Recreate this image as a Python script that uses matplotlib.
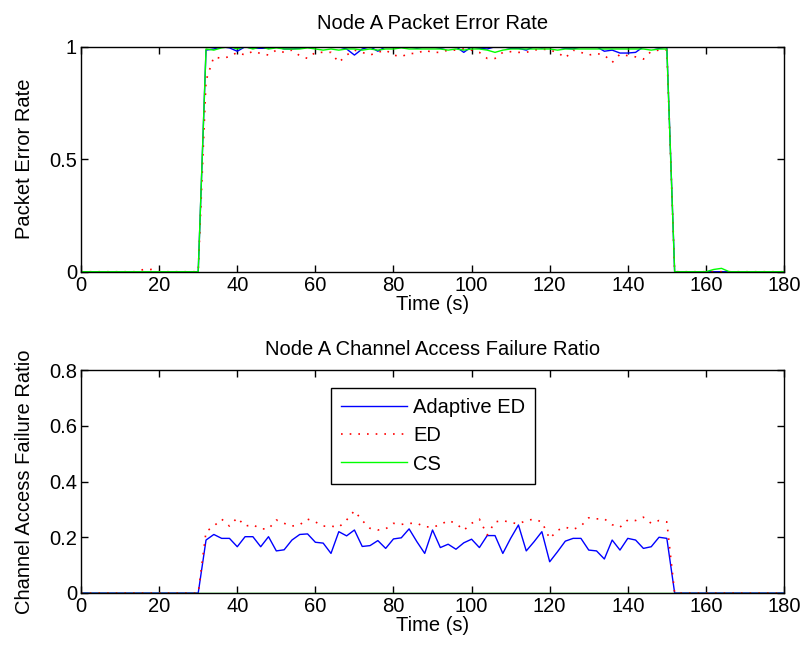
import matplotlib
matplotlib.use('Agg')
import matplotlib.pyplot as plt

plt.rcParams['font.family'] = ['Liberation Sans', 'DejaVu Sans']

# sample times of the active period (2 s steps)
t_on = list(range(30, 153, 2))

# Packet error rate (top panel)
per_adaptive = [0, 0.985, 0.99, 1.0, 0.995, 0.98, 1.0, 0.993, 0.993, 0.993,
                1.0, 0.99, 0.99, 0.993, 1.0, 1.0, 1.0, 1.0, 1.0, 0.99,
                0.963, 0.99, 1.0, 0.98, 1.0, 1.0, 1.0, 1.0, 0.993, 1.0,
                1.0, 0.993, 1.0, 1.0, 0.975, 1.0, 0.993, 0.99, 1.0, 1.0,
                0.993, 0.993, 0.985, 1.0, 0.995, 1.0, 1.0, 0.993, 0.99, 1.0,
                1.0, 1.0, 0.98, 0.985, 0.972, 0.972, 0.975, 1.0, 1.0, 0.993,
                1.0, 0]
per_ed = [0, 0.85, 0.955, 0.948, 0.956, 0.975, 0.963, 0.98, 0.97, 0.963,
          0.985, 0.975, 0.985, 0.96, 0.948, 0.975, 0.975, 0.975, 0.93, 0.963,
          0.985, 0.975, 0.963, 0.975, 0.985, 0.963, 0.956, 0.97, 0.97, 0.985,
          0.975, 0.975, 0.985, 0.985, 0.99, 0.985, 0.975, 0.948, 0.948, 0.975,
          0.978, 0.975, 0.975, 0.985, 0.99, 0.985, 0.975, 0.95, 0.985, 0.975,
          0.963, 0.97, 0.963, 0.93, 0.967, 0.96, 0.955, 0.945, 0.98, 0.985,
          0.985, 0]
per_cs = [0, 0.99, 0.985, 0.995, 1.0, 0.99, 1.0, 0.99, 1.0, 0.99,
          0.995, 0.99, 0.99, 0.99, 0.995, 0.99, 0.985, 0.99, 0.985, 0.99,
          0.99, 0.985, 0.99, 0.985, 0.99, 0.99, 0.995, 0.99, 0.99, 0.99,
          0.99, 0.99, 0.985, 0.99, 0.985, 0.99, 0.99, 0.985, 0.975, 0.985,
          0.99, 0.99, 0.99, 0.99, 0.99, 0.99, 0.985, 0.99, 0.99, 0.99,
          0.99, 0.99, 0.99, 0.99, 0.99, 0.99, 0.99, 0.99, 0.985, 0.99,
          0.99, 0]
# quiet periods
per_ed_pre_t = [0, 14, 16, 18, 20]
per_ed_pre = [0, 0, 0.01, 0.01, 0]
per_cs_post_t = [160, 162, 164, 166, 180]
per_cs_post = [0, 0.01, 0.015, 0, 0]

# Channel access failure ratio (bottom panel)
cafr_adaptive = [0, 0.19, 0.21, 0.196, 0.196, 0.166, 0.202, 0.202, 0.166, 0.202,
                 0.151, 0.155, 0.19, 0.21, 0.212, 0.182, 0.179, 0.142, 0.22, 0.205,
                 0.226, 0.167, 0.17, 0.188, 0.16, 0.194, 0.198, 0.23, 0.184, 0.142,
                 0.226, 0.163, 0.175, 0.157, 0.18, 0.193, 0.163, 0.206, 0.206, 0.142,
                 0.196, 0.244, 0.151, 0.184, 0.22, 0.112, 0.148, 0.186, 0.196, 0.196,
                 0.154, 0.151, 0.122, 0.19, 0.154, 0.196, 0.19, 0.16, 0.166, 0.2,
                 0.196, 0]
cafr_ed = [0, 0.22, 0.24, 0.265, 0.24, 0.27, 0.24, 0.245, 0.23, 0.23,
           0.262, 0.25, 0.24, 0.245, 0.265, 0.255, 0.24, 0.24, 0.236, 0.262,
           0.295, 0.26, 0.232, 0.226, 0.23, 0.25, 0.246, 0.25, 0.25, 0.238,
           0.236, 0.245, 0.26, 0.25, 0.225, 0.25, 0.265, 0.208, 0.255, 0.26,
           0.253, 0.248, 0.26, 0.265, 0.255, 0.195, 0.225, 0.236, 0.228, 0.24,
           0.27, 0.266, 0.266, 0.245, 0.236, 0.262, 0.26, 0.272, 0.25, 0.26,
           0.255, 0]
cafr_cs_t = [0, 180]
cafr_cs = [0, 0]

labels = ['Adaptive ED', 'ED', 'CS']
FS = 14.5
dots = (0, (1, 4.2))

fig = plt.figure(figsize=(8.05, 6.51), dpi=100)
ax1 = fig.add_axes([0.1007, 0.5826, 0.8732, 0.3456])
ax2 = fig.add_axes([0.1007, 0.0891, 0.8732, 0.3425])

# top panel
ax1.plot([0] + t_on + [180], [0] + per_adaptive + [0], color='#0000ff', lw=1)
ax1.plot(per_ed_pre_t + t_on + [180], per_ed_pre + per_ed + [0],
         color='#ff0000', lw=1.2, linestyle=dots)
ax1.plot([0] + t_on + per_cs_post_t, [0] + per_cs + per_cs_post, color='#00ff00', lw=1)
ax1.set_ylim(0, 1)
ax1.set_yticks([0, 0.5, 1])
ax1.set_yticklabels(['0', '0.5', '1'])
ax1.set_title('Node A Packet Error Rate', fontsize=FS, pad=13)
ax1.set_ylabel('Packet Error Rate', fontsize=FS, labelpad=11)

# bottom panel
l1, = ax2.plot([0] + t_on + [180], [0] + cafr_adaptive + [0], color='#0000ff', lw=1)
l2, = ax2.plot([0] + t_on + [180], [0] + cafr_ed + [0], color='#ff0000', lw=1.2,
               linestyle=dots)
l3, = ax2.plot(cafr_cs_t, cafr_cs, color='#00ff00', lw=1)
ax2.set_ylim(0, 0.8)
ax2.set_yticks([0, 0.2, 0.4, 0.6, 0.8])
ax2.set_yticklabels(['0', '0.2', '0.4', '0.6', '0.8'])
ax2.set_title('Node A Channel Access Failure Ratio', fontsize=FS, pad=11)
ax2.set_ylabel('Channel Access Failure Ratio', fontsize=FS, labelpad=11)

leg = ax2.legend([l1, l2, l3], labels, loc='upper left', bbox_to_anchor=(0.355, 0.918),
                 borderaxespad=0, fancybox=False, framealpha=1, edgecolor='black',
                 fontsize=FS, handlelength=3.3, labelspacing=0.45, handletextpad=0.3,
                 borderpad=0.5)
leg.get_frame().set_linewidth(1)

for ax in (ax1, ax2):
    ax.set_xlim(0, 180)
    ax.set_xticks(range(0, 181, 20))
    ax.set_xlabel('Time (s)', fontsize=FS, labelpad=0)
    ax.tick_params(direction='in', top=True, right=True, length=5, width=1,
                   labelsize=FS, pad=3)
    for s in ax.spines.values():
        s.set_linewidth(1)
        s.set_zorder(5)

fig.savefig('out.png', dpi=100, facecolor='white')
